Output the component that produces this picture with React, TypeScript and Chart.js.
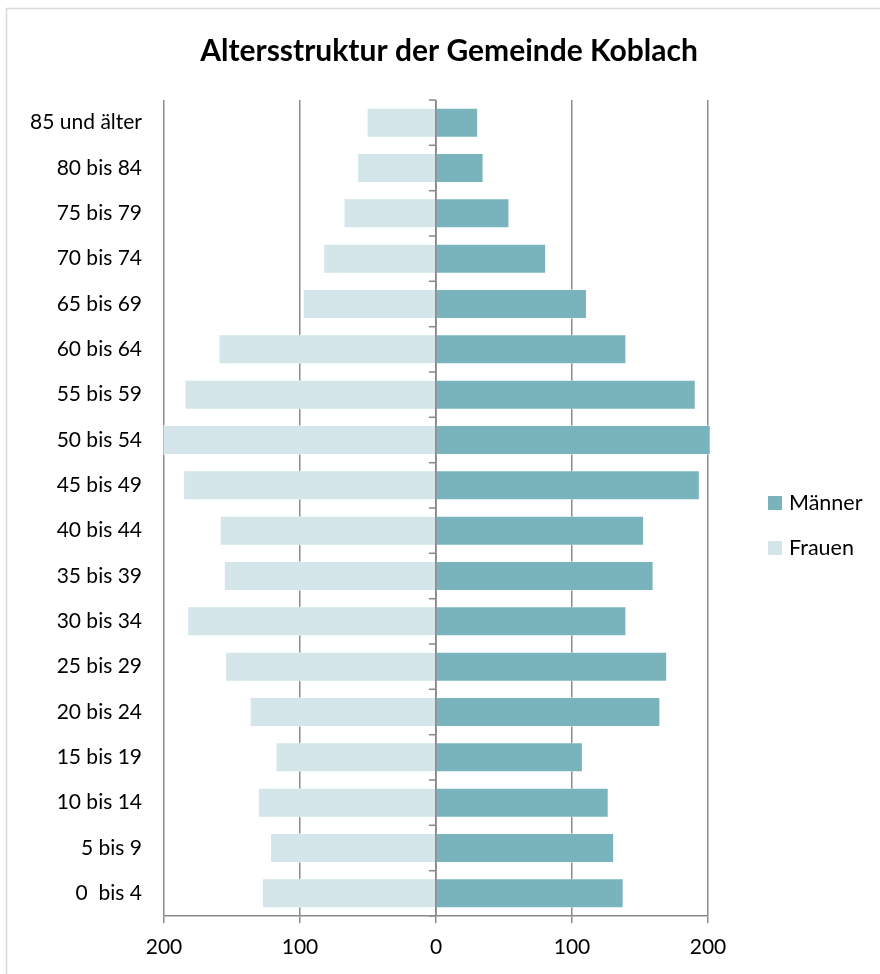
import React, { useEffect, useRef } from "react";
import { Chart, registerables } from "chart.js";

Chart.register(...registerables);

const TITLE = "Altersstruktur der Gemeinde Koblach";
const AGE_GROUPS = [
  "85 und älter",
  "80 bis 84",
  "75 bis 79",
  "70 bis 74",
  "65 bis 69",
  "60 bis 64",
  "55 bis 59",
  "50 bis 54",
  "45 bis 49",
  "40 bis 44",
  "35 bis 39",
  "30 bis 34",
  "25 bis 29",
  "20 bis 24",
  "15 bis 19",
  "10 bis 14",
  "5 bis 9",
  "0  bis 4",
];
const MAENNER = [31, 35, 54, 81, 111, 140, 191, 202, 194, 153, 160, 140, 170, 165, 108, 127, 131, 138];
const FRAUEN = [51, 58, 68, 83, 98, 160, 185, 201, 186, 159, 156, 183, 155, 137, 118, 131, 122, 128];
const SERIES_NAMES = ["Männer", "Frauen"];
const X_MIN = -200;
const X_MAX = 200;
const X_STEP = 100;

const COLOR_M = "#79b4bd";
const COLOR_F = "#d4e6ea";
const GRID = "#8a8a8a";
const FONT = "Lato, 'Open Sans', 'Noto Sans', sans-serif";

export default function App() {
  const ref = useRef<HTMLCanvasElement>(null);

  useEffect(() => {
    document.body.style.margin = "0";
    const canvas = ref.current!;

    const framePlugin = {
      id: "frame",
      beforeDraw(chart: any) {
        const ctx = chart.ctx;
        ctx.save();
        ctx.fillStyle = "#ffffff";
        ctx.fillRect(0, 0, chart.width, chart.height);
        ctx.strokeStyle = "#d9d9d9";
        ctx.lineWidth = 1.5;
        ctx.strokeRect(6.5, 8.5, chart.width + 20, chart.height + 20);
        ctx.restore();
      },
    };

    const titlePlugin = {
      id: "customTitle",
      afterDraw(chart: any) {
        const ctx = chart.ctx;
        ctx.save();
        ctx.font = `bold 30px ${FONT}`;
        ctx.fillStyle = "#000";
        ctx.textAlign = "center";
        ctx.textBaseline = "alphabetic";
        ctx.fillText(TITLE, 449, 61);
        ctx.restore();
      },
    };

    const zeroAxisPlugin = {
      id: "zeroAxis",
      afterDatasetsDraw(chart: any) {
        const ctx = chart.ctx;
        const xs = chart.scales.x;
        const area = chart.chartArea;
        const x0 = xs.getPixelForValue(0);
        const n = AGE_GROUPS.length;
        const band = (area.bottom - area.top) / n;
        ctx.save();
        ctx.strokeStyle = GRID;
        ctx.lineWidth = 1.5;
        ctx.beginPath();
        ctx.moveTo(x0, area.top);
        ctx.lineTo(x0, area.bottom);
        for (let i = 0; i <= n; i++) {
          const y = area.top + i * band;
          ctx.moveTo(x0 - 7, y);
          ctx.lineTo(x0, y);
        }
        ctx.stroke();
        ctx.restore();
      },
    };

    const legendPlugin = {
      id: "customLegend",
      afterDraw(chart: any) {
        const ctx = chart.ctx;
        const area = chart.chartArea;
        const colors = [COLOR_M, COLOR_F];
        const bx = area.right + 60;
        const startY = 496;
        ctx.save();
        ctx.font = `21.5px ${FONT}`;
        ctx.textBaseline = "alphabetic";
        ctx.textAlign = "left";
        SERIES_NAMES.forEach((name, i) => {
          const y = startY + i * 45;
          ctx.fillStyle = colors[i];
          ctx.fillRect(bx, y, 14, 14);
          ctx.fillStyle = "#000";
          ctx.fillText(name, bx + 21, y + 14);
        });
        ctx.restore();
      },
    };

    const chart = new Chart(canvas, {
      type: "bar",
      data: {
        labels: AGE_GROUPS,
        datasets: [
          {
            label: SERIES_NAMES[0],
            data: MAENNER,
            backgroundColor: COLOR_M,
            borderColor: "rgba(255,255,255,0.45)",
            borderWidth: 1,
            barPercentage: 0.66,
            categoryPercentage: 1,
            clip: false as any,
          },
          {
            label: SERIES_NAMES[1],
            data: FRAUEN.map((v) => -v),
            backgroundColor: COLOR_F,
            borderColor: "rgba(255,255,255,0.45)",
            borderWidth: 1,
            barPercentage: 0.66,
            categoryPercentage: 1,
            clip: false as any,
          },
        ],
      },
      options: {
        indexAxis: "y",
        responsive: false,
        animation: false,
        devicePixelRatio: 1,
        layout: { padding: { left: 18, right: 172, top: 100, bottom: 0 } },
        plugins: {
          legend: { display: false },
          tooltip: { enabled: false },
          title: { display: false },
        },
        scales: {
          x: {
            stacked: true,
            min: X_MIN,
            max: X_MAX,
            ticks: {
              stepSize: X_STEP,
              color: "#000",
              font: { family: FONT, size: 21 },
              padding: 12,
              callback: (v: any) => String(Math.abs(Number(v))),
            },
            grid: {
              color: GRID,
              lineWidth: 1.5,
              drawTicks: true,
              tickLength: 7,
              tickColor: GRID,
            },
            border: { display: true, color: GRID, width: 1.5 },
            afterFit: (scale: any) => {
              scale.height = 58;
            },
          },
          y: {
            stacked: true,
            ticks: {
              color: "#000",
              font: { family: FONT, size: 21 },
              padding: 22,
            },
            grid: { display: false, drawTicks: false },
            border: { display: false },
            afterFit: (scale: any) => {
              scale.width = 146;
            },
          },
        },
      },
      plugins: [framePlugin, zeroAxisPlugin, legendPlugin, titlePlugin],
    } as any);

    return () => chart.destroy();
  }, []);

  return (
    <div style={{ width: 880, height: 974 }}>
      <canvas ref={ref} width={880} height={974} style={{ display: "block" }} />
    </div>
  );
}
